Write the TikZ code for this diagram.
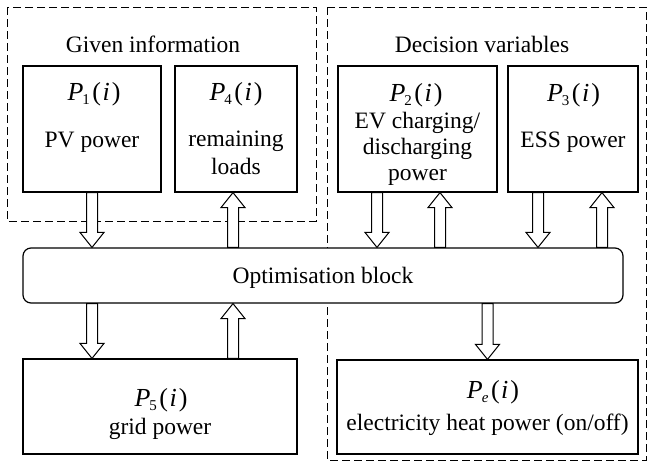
\documentclass[tikz,border=0pt]{standalone}
\usepackage{fontspec}
\setmainfont{Liberation Serif}
\usetikzlibrary{calc}
\newcommand{\pvar}[1]{{\fontsize{26}{26}\selectfont\textit{P}\kern-1pt\raisebox{-4.5pt}{\fontsize{15}{15}\selectfont#1}\kern2.5pt(\kern1.5pt\textit{i}\kern2pt)}}
\begin{document}
\begin{tikzpicture}[x=1pt, y=-1pt, line join=miter,
    font=\fontsize{23.5}{26}\selectfont,
    box/.style={draw, line width=1.2pt, fill=white, inner sep=0pt},
    dashbox/.style={draw, line width=1pt, dash pattern=on 8pt off 4pt},
    txt/.style={anchor=base, inner sep=0pt},
    lines/.style={align=center, inner sep=0pt},
    fatarrow/.style={draw, fill=white, line width=1pt,
      to path={let \p1=(\tikztostart), \p2=(\tikztotarget), \n1={15*sign(\y2-\y1)} in
        ({\x1-5.5pt},\y1) -- ({\x1-5.5pt},{\y2-\n1}) -- ({\x1-12pt},{\y2-\n1})
        -- (\x2,\y2) -- ({\x1+12pt},{\y2-\n1}) -- ({\x1+5.5pt},{\y2-\n1})
        -- ({\x1+5.5pt},\y1) -- cycle}}]
  \useasboundingbox (0,0) rectangle (648,471);
  % the two dashed frames
  \draw[dashbox] (7,7) rectangle (316,221);
  \draw[dashbox] (327,7) rectangle (646,460);
  \node[txt] (given) at (153,52) {Given information};
  \node[txt] (decide) at (482,52) {Decision variables};
  % the blocks on top
  \node[box, minimum width=138pt, minimum height=126pt] (pv) at (92,129) {};
  \node[box, minimum width=122pt, minimum height=126pt] (load) at (236,129) {};
  \node[box, minimum width=159pt, minimum height=126pt] (ev) at (417.5,129) {};
  \node[box, minimum width=130pt, minimum height=126pt] (ess) at (573,129) {};
  \node[txt] (pvsym) at (94,100) {\pvar{1}};
  \node[txt] (pvname) at (92,147) {PV power};
  \node[txt] (loadsym) at (236,100) {\pvar{4}};
  \node[lines, font=\fontsize{23.5}{28}\selectfont] (loadname) at (236,153) {remaining\\loads};
  \node[txt] (evsym) at (416,101) {\pvar{2}};
  \node[lines] (evname) at (417.5,148.5) {EV charging/\\discharging\\power};
  \node[txt] (esssym) at (573.5,101) {\pvar{3}};
  \node[txt] (essname) at (573,147) {ESS power};
  % the blocks below
  \node[box, minimum width=274pt, minimum height=95pt] (grid) at (160,406.5) {};
  \node[box, minimum width=301pt, minimum height=94pt] (heat) at (487.5,407) {};
  \node[txt] (gridsym) at (161,406) {\pvar{5}};
  \node[txt] (gridname) at (160,434) {grid power};
  \node[txt] (heatsym) at (493,398) {\pvar{\textit{e}}};
  \node[txt] (heatname) at (487.5,430) {electricity heat power (on/off)};
  % optimisation
  \node[box, rounded corners=8pt, minimum width=600pt, minimum height=55pt] (opt) at (323,275.5) {};
  \node[txt] (optname) at (323,283) {Optimisation block};
  % hollow arrows
  \draw[fatarrow] (pv.south) to (pv.south |- opt.north);
  \draw[fatarrow] ([xshift=-3pt]load.south |- opt.north) to ([xshift=-3pt]load.south);
  \draw[fatarrow] ([xshift=-40.5pt]ev.south) to ([xshift=-40.5pt]ev.south |- opt.north);
  \draw[fatarrow] ([xshift=22.5pt]ev.south |- opt.north) to ([xshift=22.5pt]ev.south);
  \draw[fatarrow] ([xshift=-35pt]ess.south) to ([xshift=-35pt]ess.south |- opt.north);
  \draw[fatarrow] ([xshift=29pt]ess.south |- opt.north) to ([xshift=29pt]ess.south);
  \draw[fatarrow] ([xshift=-68pt]grid.north |- opt.south) to ([xshift=-68pt]grid.north);
  \draw[fatarrow] ([xshift=73pt]grid.north) to ([xshift=73pt]grid.north |- opt.south);
  \draw[fatarrow] (heat.north |- opt.south) to (heat.north);
\end{tikzpicture}
\end{document}
